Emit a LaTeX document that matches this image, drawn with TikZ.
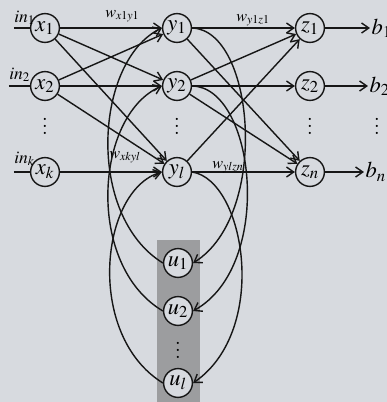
\documentclass[tikz,border=0pt]{standalone}
\usepackage{mathptmx}
\usepackage{tikz}
\usetikzlibrary{arrows.meta}
\definecolor{ink}{HTML}{161616}
\definecolor{paper}{HTML}{D7DADF}
\definecolor{colgray}{HTML}{9C9D9F}
\tikzset{
  netarr/.style={-{Straight Barb[length=1.8mm,width=2.5mm]},line width=1pt,color=ink},
  netline/.style={line width=1pt,color=ink},
  neuron/.style={circle,draw=ink,fill=paper,line width=1pt,minimum size=7.2mm,inner sep=0pt,font=\fontsize{16}{17}\selectfont},
  outlab/.style={anchor=west,inner sep=1pt,font=\fontsize{16}{17}\selectfont},
  inlab/.style={anchor=base west,inner sep=0pt,font=\fontsize{12.5}{13}\selectfont},
  wlab/.style={anchor=base west,inner sep=0pt,font=\fontsize{11.5}{12}\selectfont},
  dotsnode/.style={inner sep=0pt,font=\fontsize{15}{16}\selectfont}
}
\begin{document}
\begin{tikzpicture}[x=0.25mm,y=-0.25mm]
  \useasboundingbox (0,0) rectangle (387,402);
  \fill[paper] (0,0) rectangle (387,402);
  \fill[colgray] (157,240) rectangle (200,402);
  % three layers
  \foreach \i/\yy in {1/28,2/86,k/172}
    \node[neuron] (x\i) at (45,\yy) {$x_\i$};
  \foreach \i/\yy in {1/28,2/86,l/172}
    \node[neuron] (y\i) at (177,\yy) {$y_\i$};
  \foreach \i/\yy in {1/28,2/86,n/172}
    \node[neuron] (z\i) at (310,\yy) {$z_\i$};
  \foreach \i/\yy in {1/263,2/311,l/383}
    \node[neuron] (u\i) at (178,\yy) {$u_\i$};
  \node[outlab] (b1) at (370,28) {$b_1$};
  \node[outlab] (b2) at (368,86) {$b_2$};
  \node[outlab] (bn) at (364,172) {$b_n$};
  \foreach \c/\xx/\yy in {dx/45/121,dy/177/121,dz/310/121,db/377/121,du/178/345}
    \node[dotsnode] (\c) at (\xx,\yy) {\scalebox{1.25}{$\vdots$}};
  % inputs
  \coordinate (in1) at (14,28);
  \coordinate (in2) at (9,86);
  \coordinate (ink) at (14,172);
  \node[inlab] (lin1) at (14,22) {$in_1$};
  \node[inlab] (lin2) at (9,79) {$in_2$};
  \node[inlab] (link) at (14,163) {$in_k$};
  \foreach \i in {1,2,k}
    \draw[netline] (in\i) -- (x\i);
  % weights
  \foreach \s in {1,2}
    \foreach \t in {1,2,l}
      \draw[netarr] (x\s) -- (y\t);
  \draw[netarr] (xk) -- (yl);
  \foreach \s/\t in {1/1,1/n,2/1,2/2,2/n,l/1,l/n}
    \draw[netarr] (y\s) -- (z\t);
  \foreach \t in {1,2,n}
    \draw[netarr] (z\t) -- (b\t);
  \node[wlab] (w11) at (105,17) {$w_{x1y1}$};
  \node[wlab] (wz11) at (236,21) {$w_{y1z1}$};
  \node[wlab] (wkl) at (109,158) {$w_{xkyl}$};
  \node[wlab] (wln) at (212,168) {$w_{ylzn}$};
  % context loops
  \draw[netarr] (y1.east) .. controls (255,30) and (270,215) .. (u1.east);
  \draw[netarr] (y2.east) .. controls (255,87) and (275,265) .. (u2.east);
  \draw[netarr] (yl.east) .. controls (245,180) and (270,330) .. (ul.east);
  \draw[netarr] (u1.west) .. controls (85,215) and (95,60) .. (y1.west);
  \draw[netarr] (u2.west) .. controls (85,265) and (95,115) .. (y2.west);
  \draw[netarr] (ul.west) .. controls (85,335) and (100,190) .. (yl.west);
\end{tikzpicture}
\end{document}
